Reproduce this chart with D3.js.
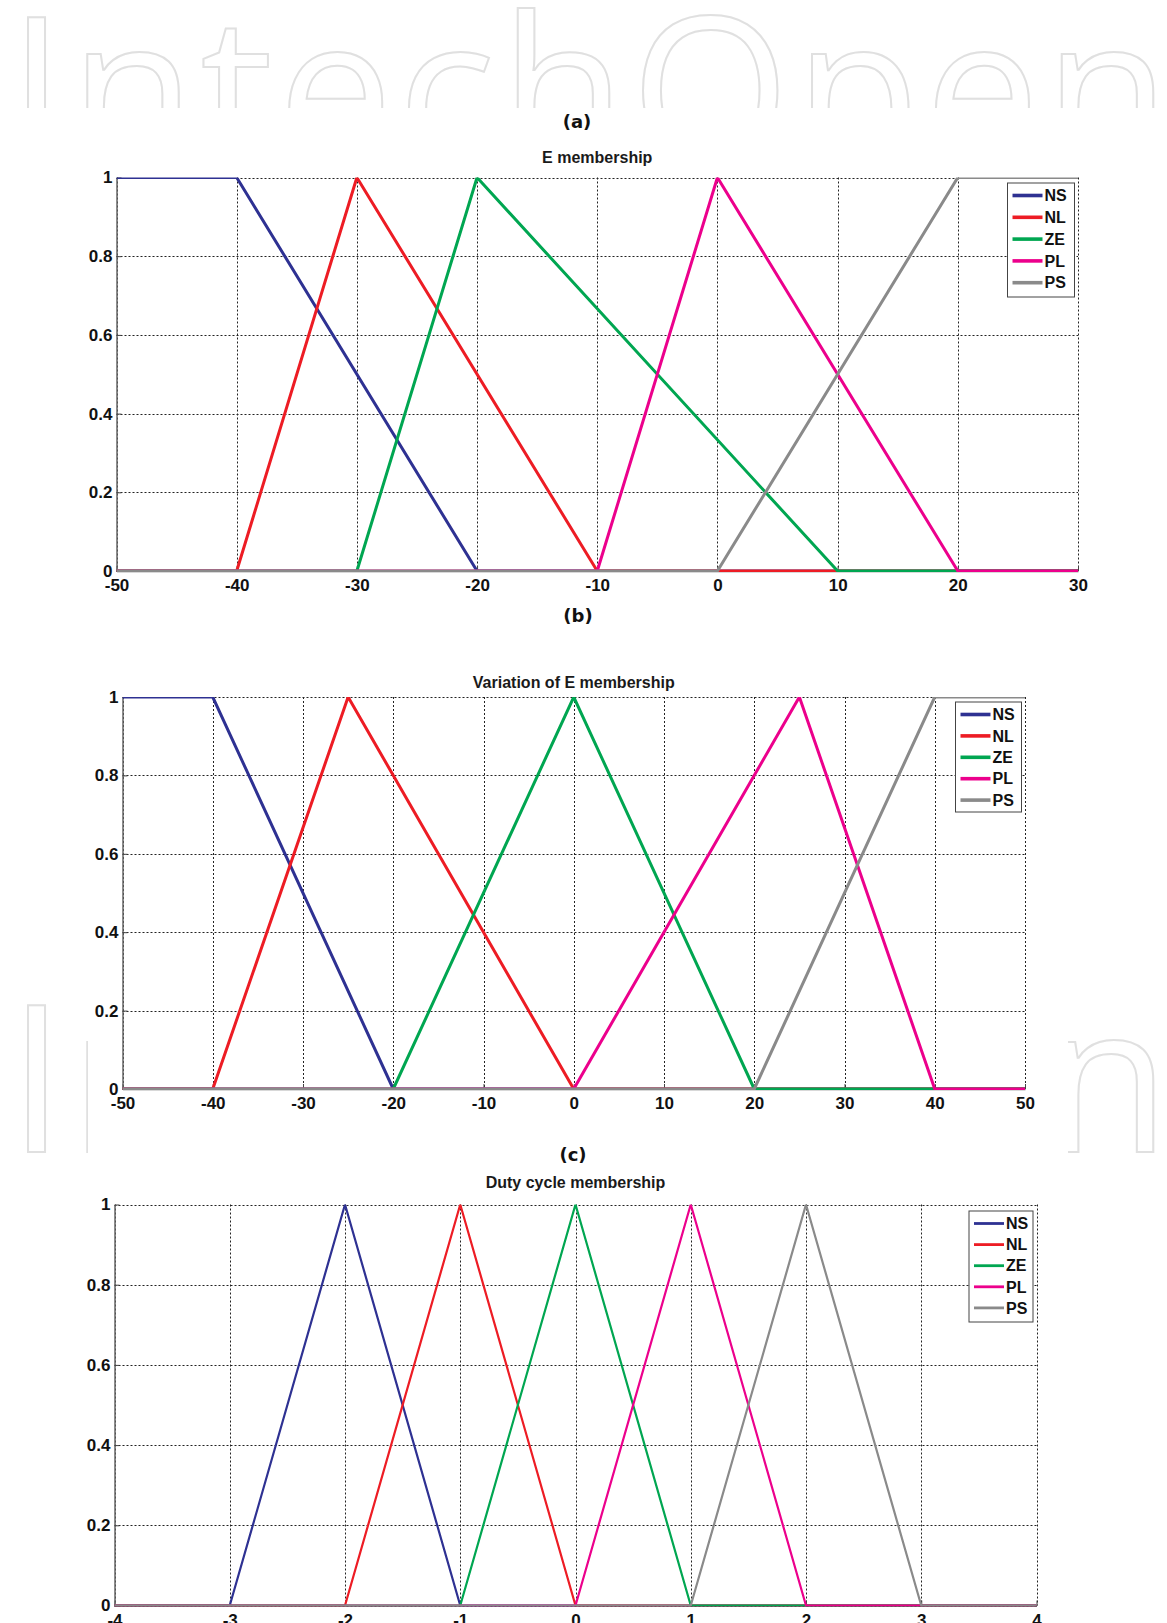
<!DOCTYPE html>
<html lang="en">
<head>
<meta charset="UTF-8">
<title>Membership functions</title>
<script src="https://d3js.org/d3.v7.min.js"></script>
<style>
    body { margin: 0; background: #fff; }
    svg { display: block; }
    .axis text { font-family: 'Liberation Sans', Arial, sans-serif; font-weight: bold; font-size: 17px; fill: #111; }
    .title { font-family: 'Liberation Sans', Arial, sans-serif; font-weight: bold; font-size: 16px; fill: #1a1a1a; }
    .panel { font-family: 'DejaVu Sans', Verdana, sans-serif; font-weight: bold; font-size: 18px; fill: #111; }
    .legend text { font-family: 'Liberation Sans', Arial, sans-serif; font-weight: bold; font-size: 16px; fill: #111; }
</style>
</head>
<body>
<svg id="fig" width="1167" height="1623"></svg>
<script>
    // membership sets, same order in all three panels
    const memberNames = ["NS", "NL", "ZE", "PL", "PS"];
    const memberColors = ["#2e3192", "#ed1c24", "#00a651", "#ec008c", "#8a8a8a"];
    const yTicks = [0, 0.2, 0.4, 0.6, 0.8, 1];

    // (a) E membership
    const eTicks = [-50, -40, -30, -20, -10, 0, 10, 20, 30];
    const eNS = [[-50, 1], [-40, 1], [-20, 0], [30, 0]];
    const eNL = [[-50, 0], [-40, 0], [-30, 1], [-10, 0], [30, 0]];
    const eZE = [[-50, 0], [-30, 0], [-20, 1], [10, 0], [30, 0]];
    const ePL = [[-50, 0], [-10, 0], [0, 1], [20, 0], [30, 0]];
    const ePS = [[-50, 0], [0, 0], [20, 1], [30, 1]];

    // (b) variation of E membership
    const dTicks = [-50, -40, -30, -20, -10, 0, 10, 20, 30, 40, 50];
    const dNS = [[-50, 1], [-40, 1], [-20, 0], [50, 0]];
    const dNL = [[-50, 0], [-40, 0], [-25, 1], [0, 0], [50, 0]];
    const dZE = [[-50, 0], [-20, 0], [0, 1], [20, 0], [50, 0]];
    const dPL = [[-50, 0], [0, 0], [25, 1], [40, 0], [50, 0]];
    const dPS = [[-50, 0], [20, 0], [40, 1], [50, 1]];

    // (c) duty cycle membership
    const cTicks = [-4, -3, -2, -1, 0, 1, 2, 3, 4];
    const cNS = [[-4, 0], [-3, 0], [-2, 1], [-1, 0], [4, 0]];
    const cNL = [[-4, 0], [-2, 0], [-1, 1], [0, 0], [4, 0]];
    const cZE = [[-4, 0], [-1, 0], [0, 1], [1, 0], [4, 0]];
    const cPL = [[-4, 0], [0, 0], [1, 1], [2, 0], [4, 0]];
    const cPS = [[-4, 0], [1, 0], [2, 1], [3, 0], [4, 0]];

    const svg = d3.select("#fig");

    //------ watermark behind the figures ------
    [164, 1152].forEach(function (y) {
        svg.append("text")
            .attr("x", 8).attr("y", y)
            .attr("textLength", 1162).attr("lengthAdjust", "spacing")
            .attr("font-family", "'Open Sans', sans-serif")
            .attr("font-size", 205)
            .attr("fill", "none").attr("stroke", "#e0e0e0").attr("stroke-width", 2)
            .text("IntechOpen");
    });
    svg.append("rect").attr("x", 0).attr("y", 108).attr("width", 1167).attr("height", 885).attr("fill", "#fff");
    svg.append("rect").attr("x", 88).attr("y", 990).attr("width", 980).attr("height", 175).attr("fill", "#fff");
    svg.append("rect").attr("x", 0).attr("y", 1163).attr("width", 1167).attr("height", 460).attr("fill", "#fff");

    function drawPanel(cfg, idx) {
        const x = d3.scaleLinear().domain(d3.extent(cfg.ticks)).range([cfg.left, cfg.right]);
        const y = d3.scaleLinear().domain([0, 1]).range([cfg.bottom, cfg.top]);
        const g = svg.append("g");

        g.append("text").attr("class", "panel")
            .attr("x", cfg.labelX).attr("y", cfg.labelY)
            .attr("text-anchor", "middle").text(cfg.label);
        g.append("text").attr("class", "title")
            .attr("x", (cfg.left + cfg.right) / 2).attr("y", cfg.titleY)
            .attr("text-anchor", "middle").text(cfg.title);

        // dotted grid, also closes the top and right edges
        const grid = g.append("g").attr("stroke", "#222").attr("stroke-width", 1)
            .attr("stroke-dasharray", "2,2");
        grid.selectAll(".gx").data(cfg.ticks).enter().append("line")
            .attr("x1", d => Math.round(x(d)) + 0.5).attr("x2", d => Math.round(x(d)) + 0.5)
            .attr("y1", cfg.top).attr("y2", cfg.bottom);
        grid.selectAll(".gy").data(yTicks).enter().append("line")
            .attr("y1", d => Math.round(y(d)) + 0.5).attr("y2", d => Math.round(y(d)) + 0.5)
            .attr("x1", cfg.left).attr("x2", cfg.right);

        const xAxis = g.append("g").attr("class", "axis")
            .attr("transform", "translate(0," + cfg.bottom + ")")
            .call(d3.axisBottom(x).tickValues(cfg.ticks).tickFormat(d3.format("d"))
                .tickSizeInner(-5).tickSizeOuter(0).tickPadding(8));
        const yAxis = g.append("g").attr("class", "axis")
            .attr("transform", "translate(" + cfg.left + ",0)")
            .call(d3.axisLeft(y).tickValues(yTicks).tickFormat(d => d === 0 || d === 1 ? d : d.toFixed(1))
                .tickSizeInner(-5).tickSizeOuter(0).tickPadding(4));
        [xAxis, yAxis].forEach(a => {
            a.select(".domain").attr("stroke", "#666").attr("stroke-width", 1.5);
            a.selectAll(".tick line").attr("stroke", "#444");
            a.selectAll("text").attr("font-family", null).attr("font-size", null);
        });
        xAxis.selectAll("text").text(d => String(d).replace("\u2212", "-"));

        // curves, clipped to the axes like the original plot (a bit looser at the bottom)
        const clipId = "clip" + idx;
        g.append("clipPath").attr("id", clipId).append("rect")
            .attr("x", cfg.left).attr("y", cfg.top)
            .attr("width", cfg.right - cfg.left).attr("height", cfg.bottom - cfg.top + 1);
        const line = d3.line().x(d => x(d[0])).y(d => y(d[1]));
        g.append("g").attr("clip-path", "url(#" + clipId + ")")
            .selectAll("path").data(cfg.series).enter().append("path")
            .attr("d", line)
            .attr("fill", "none")
            .attr("stroke", (d, i) => memberColors[i])
            .attr("stroke-width", cfg.lineW)
            .attr("stroke-linejoin", "round");

        // legend box in the upper right corner
        const lg = g.append("g").attr("class", "legend")
            .attr("transform", "translate(" + (cfg.right - 3.5 - cfg.legW) + "," + (cfg.top + cfg.legTop) + ")");
        lg.append("rect").attr("width", cfg.legW).attr("height", cfg.legH)
            .attr("fill", "#fff").attr("stroke", "#444").attr("stroke-width", 1);
        const rows = lg.selectAll(".row").data(memberNames).enter().append("g")
            .attr("transform", (d, i) => "translate(0," + (12.5 + i * cfg.legStep) + ")");
        rows.append("line").attr("x1", 5).attr("x2", 35)
            .attr("stroke", (d, i) => memberColors[i]).attr("stroke-width", cfg.lineW + 0.6);
        rows.append("text").attr("x", 37).attr("dy", "0.36em").text(d => d);
    }

    drawPanel({
        label: "(a)", labelX: 577, labelY: 128,
        title: "E membership", titleY: 163,
        left: 116.5, right: 1078, top: 177.5, bottom: 571,
        ticks: eTicks, series: [eNS, eNL, eZE, ePL, ePS], lineW: 3,
        legW: 67, legH: 114, legTop: 5.5, legStep: 21.8
    }, 0);

    drawPanel({
        label: "(b)", labelX: 578, labelY: 622,
        title: "Variation of E membership", titleY: 688,
        left: 122.5, right: 1025, top: 697, bottom: 1089,
        ticks: dTicks, series: [dNS, dNL, dZE, dPL, dPS], lineW: 3,
        legW: 66, legH: 110, legTop: 5, legStep: 21.4
    }, 1);

    drawPanel({
        label: "(c)", labelX: 573, labelY: 1161,
        title: "Duty cycle membership", titleY: 1188,
        left: 114.5, right: 1036.5, top: 1204.5, bottom: 1605.5,
        ticks: cTicks, series: [cNS, cNL, cZE, cPL, cPS], lineW: 2.2,
        legW: 64, legH: 111, legTop: 6.5, legStep: 21.1
    }, 2);
</script>
</body>
</html>
